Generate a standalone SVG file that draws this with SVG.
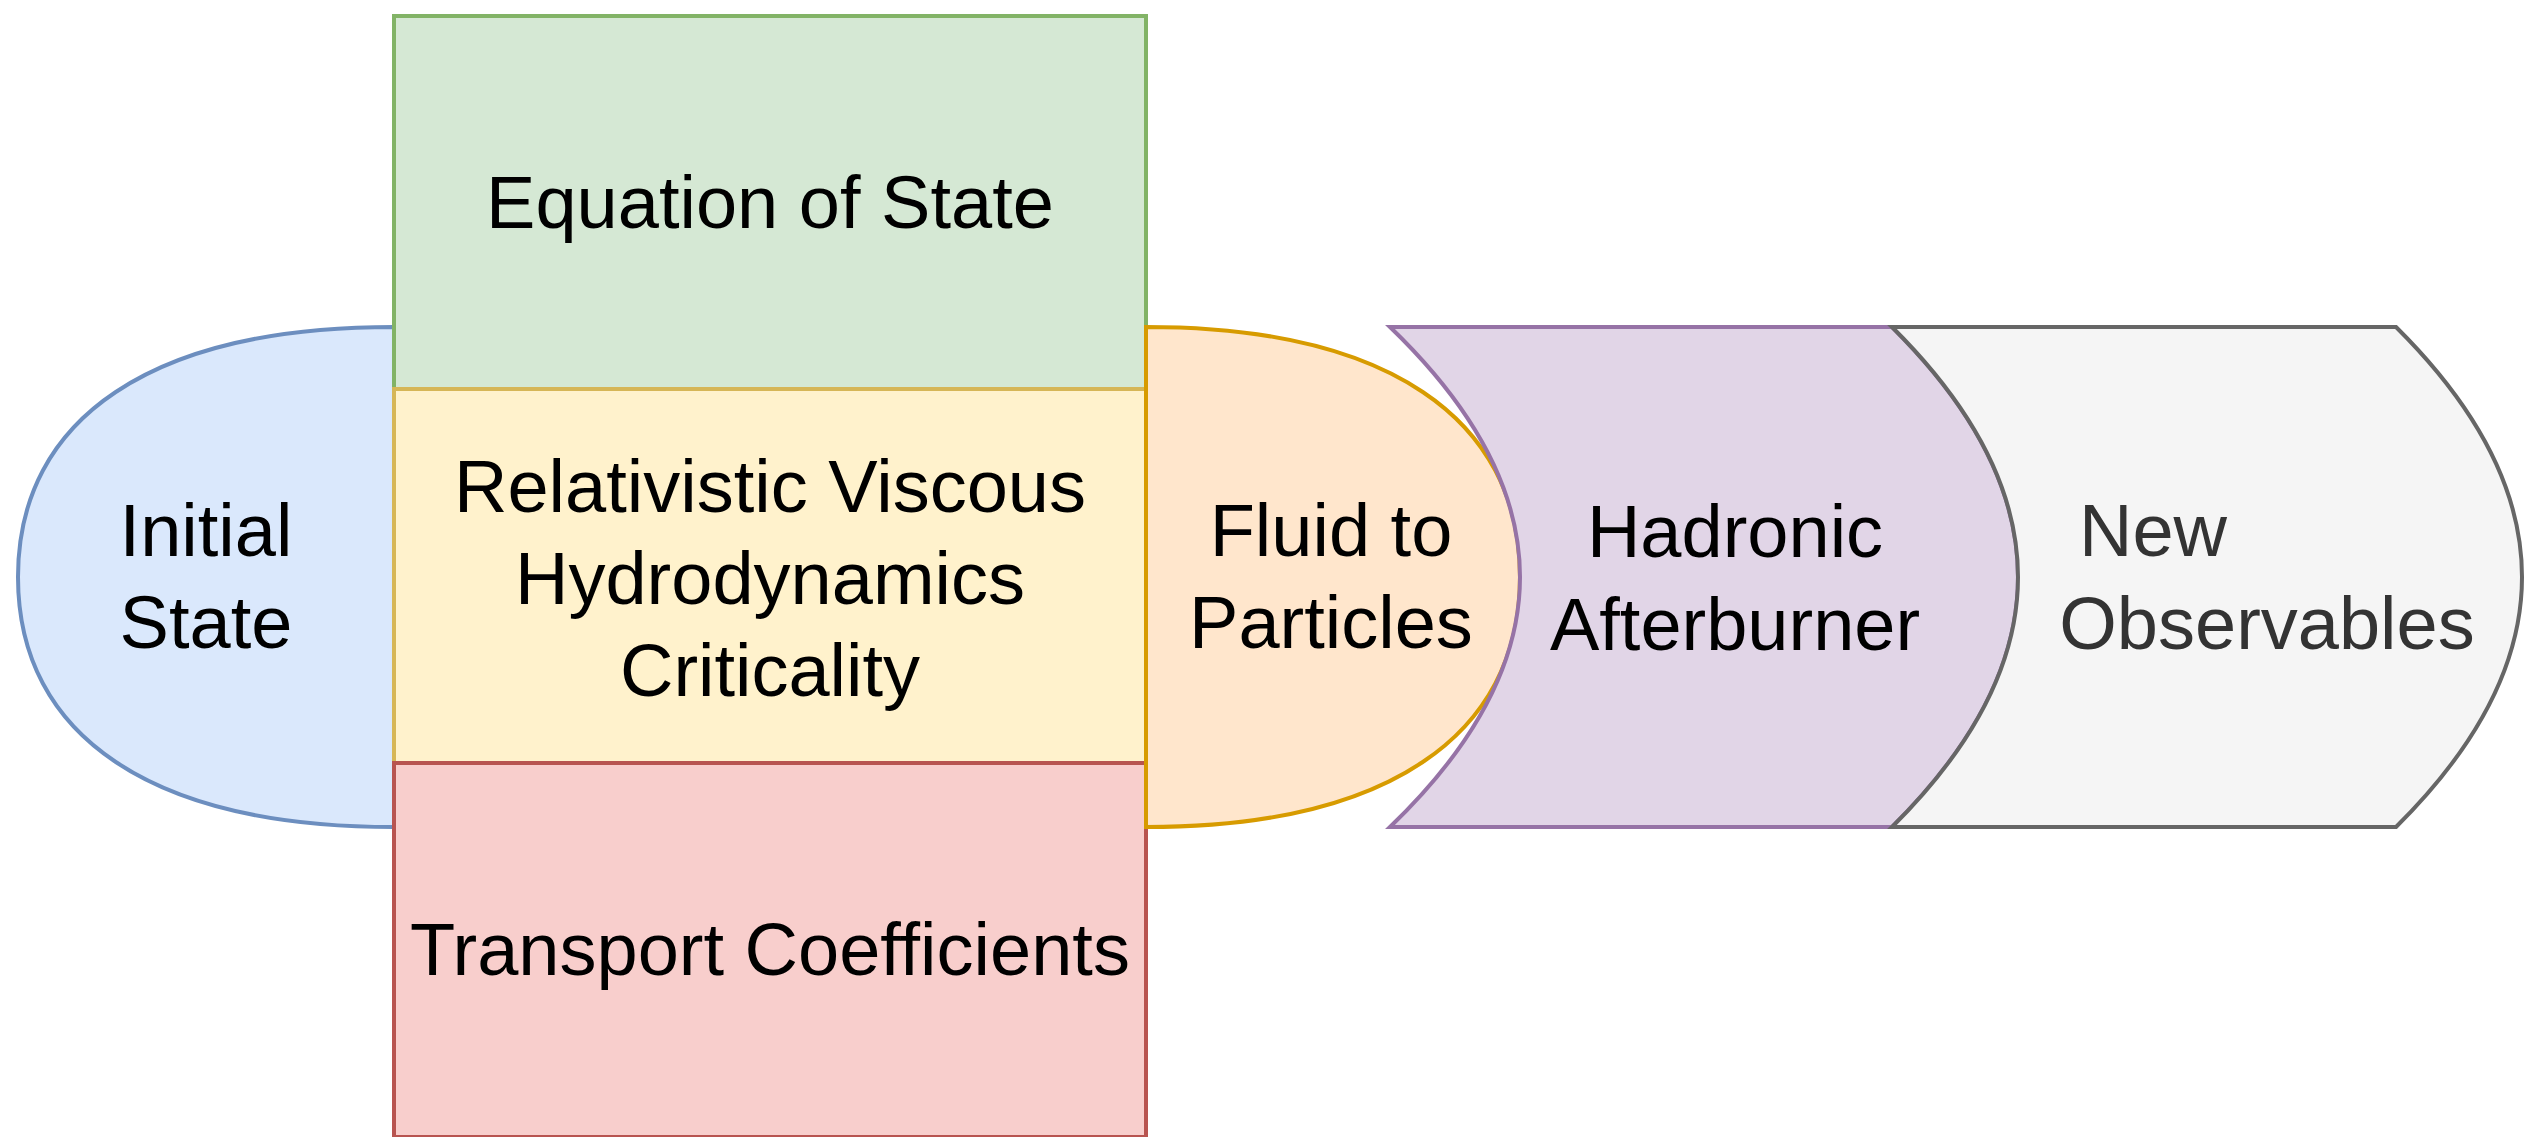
<svg xmlns="http://www.w3.org/2000/svg" width="2530" height="1137" viewBox="0 0 2530 1137">
  <style>
    .lbl { font-family: "Liberation Sans", Arial, Helvetica, sans-serif; font-size: 74px; fill: #000000; text-anchor: middle; }
    .grey { fill: #333333; }
    .shape { stroke-width: 4; stroke-linejoin: miter; }
  </style>
  <rect x="0" y="0" width="2530" height="1137" fill="#ffffff"/>
  <g id="initial-state">
    <path class="shape" d="M394,327 C153.4,327 18,417 18,577 C18,737 153.4,827 394,827 Z" fill="#dae8fc" stroke="#6c8ebf"/>
    <text class="lbl" x="206" y="556">Initial</text>
    <text class="lbl" x="206" y="648">State</text>
  </g>
  <g id="equation-of-state">
    <rect class="shape" x="394" y="16" width="752" height="373" fill="#d5e8d4" stroke="#82b366"/>
    <text class="lbl" x="770" y="228">Equation of State</text>
  </g>
  <g id="hydrodynamics">
    <rect class="shape" x="394" y="389" width="752" height="374" fill="#fff2cc" stroke="#d6b656"/>
    <text class="lbl" x="770" y="512">Relativistic Viscous</text>
    <text class="lbl" x="770" y="604">Hydrodynamics</text>
    <text class="lbl" x="770" y="696">Criticality</text>
  </g>
  <g id="transport-coefficients">
    <rect class="shape" x="394" y="763" width="752" height="374" fill="#f8cecc" stroke="#b85450"/>
    <text class="lbl" x="770" y="975">Transport Coefficients</text>
  </g>
  <g id="fluid-to-particles">
    <path class="shape" d="M1146,327 C1385.4,327 1520,417 1520,577 C1520,737 1385.4,827 1146,827 Z" fill="#ffe6cc" stroke="#d79b00"/>
    <text class="lbl" x="1331" y="556">Fluid to</text>
    <text class="lbl" x="1331" y="648">Particles</text>
  </g>
  <g id="hadronic-afterburner">
    <path class="shape" d="M1390,327 L1892,327 Q2144,577 1892,827 L1390,827 Q1650,577 1390,327 Z" fill="#e1d5e7" stroke="#9673a6"/>
    <text class="lbl" x="1735" y="557">Hadronic</text>
    <text class="lbl" x="1735" y="650">Afterburner</text>
  </g>
  <g id="new-observables">
    <path class="shape" d="M1892,327 L2396,327 Q2648,577 2396,827 L1892,827 Q2144,577 1892,327 Z" fill="#f5f5f5" stroke="#666666"/>
    <text class="lbl grey" x="2153" y="556">New</text>
    <text class="lbl grey" x="2267" y="649">Observables</text>
  </g>
  <g id="connectors"></g>
</svg>
